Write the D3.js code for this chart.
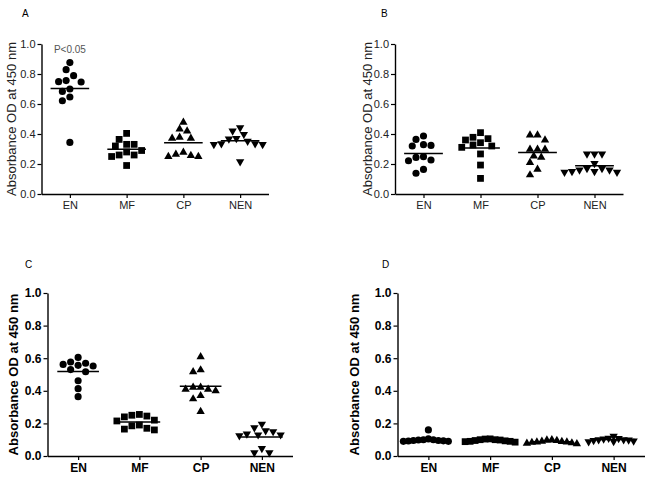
<!DOCTYPE html>
<html><head><meta charset="utf-8">
<script src="https://cdn.jsdelivr.net/npm/d3@7"></script>
<style>body{margin:0;background:#fff}svg{display:block}</style>
</head><body><svg id="c" width="652" height="478"></svg>
<script>
// ---------- data ----------
const categories = ["EN", "MF", "CP", "NEN"];
const yTicks = [0, 0.2, 0.4, 0.6, 0.8, 1.0];
const yLabel = "Absorbance OD at 450 nm";
const annotation = "P<0.05";

const A_EN  = [0.876, 0.829, 0.789, 0.756, 0.749, 0.747, 0.700, 0.684, 0.647, 0.622, 0.344];
const A_MF  = [0.404, 0.364, 0.331, 0.331, 0.320, 0.290, 0.280, 0.260, 0.260, 0.250, 0.190];
const A_CP  = [0.478, 0.433, 0.420, 0.378, 0.371, 0.371, 0.278, 0.265, 0.256, 0.250, 0.250];
const A_NEN = [0.442, 0.420, 0.398, 0.371, 0.367, 0.352, 0.335, 0.330, 0.330, 0.335, 0.216];

const B_EN  = [0.387, 0.364, 0.329, 0.324, 0.320, 0.249, 0.244, 0.227, 0.222, 0.164, 0.138];
const B_MF  = [0.409, 0.378, 0.369, 0.360, 0.342, 0.327, 0.320, 0.311, 0.267, 0.193, 0.104];
const B_CP  = [0.393, 0.393, 0.360, 0.298, 0.298, 0.298, 0.253, 0.244, 0.209, 0.164, 0.127];
const B_NEN = [0.267, 0.267, 0.267, 0.204, 0.170, 0.160, 0.150, 0.145, 0.145, 0.150, 0.160, 0.170];

const C_EN  = [0.605, 0.577, 0.569, 0.562, 0.556, 0.552, 0.530, 0.517, 0.462, 0.413, 0.364];
const C_MF  = [0.255, 0.250, 0.245, 0.240, 0.220, 0.215, 0.190, 0.185, 0.170, 0.165, 0.160];
const C_CP  = [0.609, 0.528, 0.517, 0.421, 0.421, 0.409, 0.409, 0.400, 0.370, 0.350, 0.272];
const C_NEN = [0.196, 0.174, 0.155, 0.150, 0.135, 0.130, 0.125, 0.130, 0.047, 0.020, 0.020];

const D_EN  = [0.160, 0.105, 0.100, 0.100, 0.098, 0.095, 0.095, 0.093, 0.092, 0.090, 0.090];
const D_MF  = [0.105, 0.104, 0.100, 0.100, 0.098, 0.095, 0.093, 0.090, 0.090, 0.088, 0.085];
const D_CP  = [0.100, 0.098, 0.095, 0.090, 0.088, 0.086, 0.085, 0.083, 0.080, 0.078, 0.075];
const D_NEN = [0.122, 0.110, 0.108, 0.105, 0.100, 0.100, 0.098, 0.095, 0.092, 0.090, 0.088];

// ---------- layout ----------
const panels = [
  {letter: "A", series: [A_EN, A_MF, A_CP, A_NEN], left: 41.5, top: 44, width: 227, height: 150,
   letterX: 22, letterY: 17, titleX: 11, font: 11, titleFont: 13, bold: false, minDist: 7.5, note: true},
  {letter: "B", series: [B_EN, B_MF, B_CP, B_NEN], left: 395, top: 44, width: 228, height: 150,
   letterX: 381, letterY: 17, titleX: 367, font: 11, titleFont: 13, bold: false, minDist: 7.5, note: false},
  {letter: "C", series: [C_EN, C_MF, C_CP, C_NEN], left: 47.5, top: 293, width: 245, height: 163,
   letterX: 25, letterY: 268, titleX: 13, font: 12, titleFont: 13, bold: true, minDist: 7.5, note: false},
  {letter: "D", series: [D_EN, D_MF, D_CP, D_NEN], left: 397.5, top: 293, width: 247, height: 163,
   letterX: 382, letterY: 268, titleX: 354, font: 12, titleFont: 13, bold: true, minDist: 5, note: false}
];

const symbols = [
  d3.symbol().type(d3.symbolCircle).size(40),
  d3.symbol().type(d3.symbolSquare).size(46),
  d3.symbol().type(d3.symbolTriangle).size(30),
  d3.symbol().type(d3.symbolTriangle).size(30)
];
const rotations = [0, 0, 0, 180];

const svg = d3.select("#c");
const FONT = "'Liberation Sans', Arial, sans-serif";

function swarm(vals, y, minDist) {
  const pts = vals.map(v => ({v, y: y(v)})).sort((a, b) => a.y - b.y);
  const placed = [];
  const step = minDist / 2;
  for (const p of pts) {
    for (let k = 0; k < 400; k++) {
      const off = k === 0 ? 0 : (k % 2 ? -1 : 1) * Math.ceil(k / 2) * step;
      if (placed.every(q => Math.hypot(q.x - off, q.y - p.y) >= minDist)) { p.x = off; break; }
    }
    placed.push(p);
  }
  return pts;
}

panels.forEach(P => {
  const x = d3.scalePoint().domain(categories).range([P.left, P.left + P.width]).padding(0.5);
  const y = d3.scaleLinear().domain([0, 1]).range([P.top + P.height, P.top]);
  const g = svg.append("g");
  const textCol = P.bold ? "#000" : "#222";

  const ya = g.append("g").attr("transform", `translate(${P.left},0)`)
    .call(d3.axisLeft(y).tickValues(yTicks).tickFormat(d3.format(".1f")).tickSize(4).tickPadding(2).tickSizeOuter(0));
  const xa = g.append("g").attr("transform", `translate(0,${P.top + P.height})`)
    .call(d3.axisBottom(x).tickSize(4).tickPadding(3).tickSizeOuter(0));
  [ya, xa].forEach(a => {
    a.select(".domain").attr("stroke", "#000").attr("stroke-width", 1.4);
    a.selectAll(".tick line").attr("stroke", "#000").attr("stroke-width", 1.2);
    a.selectAll("text").attr("fill", textCol).style("font-family", FONT)
      .style("font-size", P.font + "px").style("font-weight", P.bold ? "bold" : "normal");
  });

  g.append("text")
    .attr("transform", `translate(${P.titleX},${P.top + P.height / 2}) rotate(-90)`)
    .attr("text-anchor", "middle").attr("dominant-baseline", "central")
    .style("font-family", FONT).style("font-size", P.titleFont + "px")
    .style("font-weight", P.bold ? "bold" : "normal")
    .attr("fill", textCol).text(yLabel);

  g.append("text").attr("x", P.letterX).attr("y", P.letterY)
    .style("font-family", FONT).style("font-size", "10px").attr("fill", "#000").text(P.letter);

  const half = x.step() * 0.34;
  P.series.forEach((vals, ci) => {
    const cx = x(categories[ci]);
    const pts = swarm(vals, y, P.minDist);
    g.append("g").selectAll("path").data(pts).join("path")
      .attr("d", symbols[ci])
      .attr("transform", d => `translate(${cx + d.x},${d.y}) rotate(${rotations[ci]})`)
      .attr("fill", "#000");
    const m = d3.mean(vals);
    g.append("line").attr("x1", cx - half).attr("x2", cx + half)
      .attr("y1", y(m)).attr("y2", y(m)).attr("stroke", "#000").attr("stroke-width", 1.5);
  });

  if (P.note) {
    g.append("text").attr("x", x(categories[0])).attr("y", y(1) + 9)
      .attr("text-anchor", "middle").style("font-family", FONT).style("font-size", "10px")
      .attr("fill", "#555").text(annotation);
  }
});
</script>
</body></html>
